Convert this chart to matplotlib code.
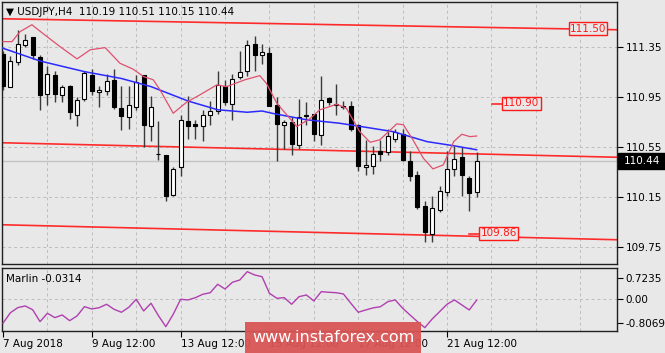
"""
plot.py
-------
USDJPY H4 candlestick chart with channel lines, two moving averages and a
Marlin oscillator sub-window (MT4 style screenshot).
"""

import matplotlib

matplotlib.use("Agg")
import matplotlib.pyplot as plt
from matplotlib.patches import Rectangle
import matplotlib.transforms as mtransforms

# --------------------------------------------------------------------------- #
# Data
# --------------------------------------------------------------------------- #
opens = [111.30, 111.03, 111.23, 111.37, 111.43, 111.27, 110.98, 111.13, 110.97, 111.04,
         110.81, 110.94, 111.13, 110.99, 111.00, 111.09, 110.86, 110.79, 110.87, 111.13,
         110.72, 110.50, 110.49, 110.17, 110.39, 110.76, 110.74, 110.72, 110.81, 110.84,
         111.04, 110.90, 111.11, 111.16, 111.38, 111.29, 111.30, 110.89, 110.73, 110.75,
         110.57, 110.81, 110.82, 110.65, 110.94, 110.89, 110.88, 110.88, 110.73, 110.39,
         110.40, 110.52, 110.51, 110.62, 110.66, 110.44, 110.33, 110.08, 109.86, 110.05,
         110.19, 110.38, 110.47, 110.30, 110.19]
highs = [111.32, 111.28, 111.49, 111.46, 111.43, 111.29, 111.20, 111.16, 111.05, 111.05,
         110.95, 111.16, 111.18, 111.04, 111.14, 111.18, 111.04, 111.04, 111.13, 111.13,
         110.96, 110.76, 110.49, 110.39, 110.81, 110.96, 110.77, 110.85, 110.92, 111.16,
         111.09, 111.14, 111.32, 111.41, 111.44, 111.38, 111.35, 110.95, 110.77, 110.79,
         110.94, 110.91, 110.82, 111.12, 110.95, 111.06, 110.92, 110.92, 110.74, 110.61,
         110.56, 110.61, 110.70, 110.70, 110.70, 110.52, 110.36, 110.12, 110.16, 110.24,
         110.52, 110.56, 110.55, 110.32, 110.51]
lows = [111.01, 111.03, 111.21, 111.35, 111.26, 110.85, 110.89, 110.91, 110.91, 110.78,
        110.72, 110.92, 110.97, 110.87, 110.97, 110.86, 110.69, 110.70, 110.85, 110.55,
        110.60, 110.45, 110.12, 110.16, 110.32, 110.62, 110.62, 110.60, 110.73, 110.82,
        110.89, 110.77, 111.10, 111.12, 111.16, 111.22, 110.88, 110.44, 110.54, 110.49,
        110.54, 110.73, 110.60, 110.57, 110.89, 110.81, 110.86, 110.68, 110.36, 110.33,
        110.34, 110.44, 110.49, 110.59, 110.44, 110.28, 110.06, 109.79, 109.79, 110.03,
        110.16, 110.32, 110.16, 110.04, 110.15]
closes = [111.04, 111.24, 111.38, 111.41, 111.29, 110.97, 111.14, 110.98, 111.03, 110.83,
          110.93, 111.14, 111.00, 111.01, 111.08, 110.87, 110.80, 110.89, 111.07, 110.73,
          110.87, 110.495, 110.16, 110.38, 110.77, 110.72, 110.72, 110.81, 110.84, 111.05,
          110.91, 111.10, 111.15, 111.37, 111.29, 111.31, 110.88, 110.74, 110.75, 110.58,
          110.79, 110.80, 110.66, 110.93, 110.91, 110.89, 110.875, 110.70, 110.40, 110.41,
          110.50, 110.50, 110.64, 110.67, 110.45, 110.32, 110.07, 109.87, 110.06, 110.20,
          110.38, 110.46, 110.33, 110.18, 110.44]

# slow moving average (blue), sampled at bar positions
ma_slow_bars = [-0.4, 5, 11, 16, 20, 25, 29, 33, 35, 36.5, 41, 45.5, 49, 52.7, 57.3, 60.8, 64]
ma_slow_vals = [111.35, 111.24, 111.155, 111.10, 111.035, 110.92, 110.85, 110.83, 110.84,
                110.82, 110.77, 110.742, 110.71, 110.675, 110.595, 110.563, 110.53]

# fast moving average (pink), sampled at bar positions
ma_fast_bars = [0, 1.2, 2.3, 3.9, 5.4, 7.7, 10, 11.8, 13.8, 15.8, 17.6, 19, 20.3, 21.2, 23,
                24.8, 26.6, 28.9, 30.2, 32.7, 34.7, 35.6, 37, 39.7, 41.5, 42.8, 45.1, 46.4,
                48.2, 49.6, 50.9, 52.1, 53.2, 54.1, 55.4, 56.8, 58.1, 59.5, 60.9, 62, 63.1, 64]
ma_fast_vals = [111.395, 111.395, 111.475, 111.53, 111.46, 111.355, 111.257, 111.33, 111.347,
                111.222, 111.174, 111.115, 111.09, 111.01, 110.822, 110.91, 110.969, 111.049,
                111.035, 111.09, 111.123, 111.06, 110.902, 110.715, 110.78, 110.849, 110.894,
                110.862, 110.675, 110.59, 110.609, 110.675, 110.737, 110.73, 110.609, 110.462,
                110.377, 110.409, 110.595, 110.654, 110.635, 110.64]

# Marlin oscillator, one value per bar
marlin = [-0.80, -0.45, -0.28, -0.225, -0.35, -0.75, -0.47, -0.617, -0.527, -0.718,
          -0.56, -0.248, -0.326, -0.282, -0.168, -0.336, -0.436, -0.268, 0.0, -0.393,
          -0.134, -0.55, -0.92, -0.503, 0.0, -0.023, 0.054, 0.168, 0.22, 0.503,
          0.345, 0.57, 0.648, 0.926, 0.815, 0.758, 0.2, 0.034, 0.054, -0.168,
          0.087, 0.144, -0.057, 0.255, 0.235, 0.22, 0.178, -0.134, -0.436, -0.36,
          -0.29, -0.25, -0.08, -0.023, -0.30, -0.527, -0.75, -0.953, -0.66, -0.416,
          -0.168, -0.023, -0.19, -0.359, -0.0314]

# channel lines: value at the left and right edge of the chart
channel_bars = [-0.14, 82.97]
channel_upper = [111.578, 111.49]
channel_mid = [110.586, 110.47]
channel_lower = [109.93, 109.81]

# price level labels
level_values = [111.50, 110.90, 109.86]
level_bars = [76.4, 67.4, 64.3]
level_texts = ["111.50", "110.90", "109.86"]

last_price = 110.44
price_ticks = [111.35, 110.95, 110.55, 110.15, 109.75]
marlin_ticks = [0.7235, 0.0, -0.8069]
marlin_tick_labels = ["0.7235", "0.00", "-0.8069"]
date_ticks = [0, 12, 24, 36, 48, 60]
date_labels = ["7 Aug 2018", "9 Aug 12:00", "13 Aug 12:00", "15 Aug 12:00",
               "17 Aug 12:00", "21 Aug 12:00"]

# --------------------------------------------------------------------------- #
# Style
# --------------------------------------------------------------------------- #
BG = "#e8e8e8"
GRID = dict(color="#bdbdbd", linestyle=(0, (3, 3)), linewidth=0.7)
FS = 7.5
W, H = 665, 353

plt.rcParams["font.family"] = ["DejaVu Sans"]
fig = plt.figure(figsize=(W / 100, H / 100), dpi=100, facecolor=BG)


def frame(left, top, right, bottom):
    """Axes rectangle from pixel edges."""
    return [left / W, 1 - bottom / H, (right - left) / W, (bottom - top) / H]


ax = fig.add_axes(frame(2, 2, 617, 264), facecolor=BG)
ax2 = fig.add_axes(frame(2, 268.3, 617, 331), facecolor=BG, sharex=ax)

xlim = (channel_bars[0], channel_bars[1])
grid_bars = list(range(6, 83, 6))

# --------------------------------------------------------------------------- #
# Main window
# --------------------------------------------------------------------------- #
for gb in grid_bars:
    ax.axvline(gb, zorder=0, **GRID)
for pt in price_ticks:
    ax.axhline(pt, zorder=0, **GRID)

ax.axhline(last_price, color="#c4c4c4", linewidth=1.0, zorder=1)

for vals in (channel_upper, channel_mid, channel_lower):
    ax.plot(channel_bars, vals, color="#ff2a2a", linewidth=1.2, zorder=2)

# candles
for i, (o, h, l, c) in enumerate(zip(opens, highs, lows, closes)):
    ax.vlines(i, l, h, color="#3a3a3a", linewidth=1.0, zorder=3)
    bottom = min(o, c)
    height = max(abs(c - o), 0.004)
    face = "black" if c < o else "white"
    ax.add_patch(Rectangle((i - 0.27, bottom), 0.54, height, facecolor=face,
                           edgecolor="black", linewidth=0.8, zorder=4))

ax.plot(ma_slow_bars, ma_slow_vals, color="#2a2aff", linewidth=1.1, zorder=5)
ax.plot(ma_fast_bars, ma_fast_vals, color="#e0506e", linewidth=0.9, zorder=5)

# level labels
for val, bar, txt in zip(level_values, level_bars, level_texts):
    if txt != "111.50":
        ax.plot([bar - 1.3, bar], [val, val], color="#ff2a2a", linewidth=1.2, zorder=2)
    ax.text(bar + 0.2, val, txt, color="#ff1a1a", fontsize=FS, ha="left", va="center",
            zorder=6, bbox=dict(boxstyle="square,pad=0.12", facecolor=BG,
                                edgecolor="#ff1a1a", linewidth=1.0))

ax.text(0.007, 0.962, "\u25bc USDJPY,H4  110.19 110.51 110.15 110.44", transform=ax.transAxes,
        fontsize=FS, ha="left", va="center", color="black")

ax.set_xlim(*xlim)
ax.set_ylim(109.616, 111.712)
ax.yaxis.tick_right()
ax.set_yticks(price_ticks)
ax.set_yticklabels([f"{p:.2f}" for p in price_ticks])
ax.tick_params(axis="y", direction="out", length=4, pad=2, labelsize=FS, width=0.8)
ax.tick_params(axis="x", length=0, labelbottom=False)

# current price box on the axis
trans = mtransforms.blended_transform_factory(ax.transAxes, ax.transData)
ax.add_patch(Rectangle((1.002, last_price - 0.06), 0.08, 0.12, transform=trans,
                       facecolor="black", edgecolor="black", clip_on=False, zorder=6))
ax.text(1.0105, last_price, "110.44", transform=trans, color="white", fontsize=FS,
        ha="left", va="center", clip_on=False, zorder=7)

# --------------------------------------------------------------------------- #
# Marlin window
# --------------------------------------------------------------------------- #
for gb in grid_bars:
    ax2.axvline(gb, zorder=0, **GRID)
ax2.axhline(0, zorder=0, **GRID)
ax2.plot(range(len(marlin)), marlin, color="#b040b0", linewidth=1.0, zorder=3)
ax2.text(0.0065, 0.83, "Marlin -0.0314", transform=ax2.transAxes, fontsize=FS,
         ha="left", va="center")

ax2.set_ylim(-1.065, 1.039)
ax2.yaxis.tick_right()
ax2.set_yticks(marlin_ticks)
ax2.set_yticklabels(marlin_tick_labels)
ax2.tick_params(axis="y", direction="out", length=4, pad=2, labelsize=FS, width=0.8)
ax2.set_xticks(date_ticks)
ax2.set_xticklabels(date_labels, ha="left")
ax2.tick_params(axis="x", direction="out", length=4, pad=2, labelsize=FS, width=0.8)

for a in (ax, ax2):
    for s in a.spines.values():
        s.set_color("#202020")
        s.set_linewidth(1.0)

# --------------------------------------------------------------------------- #
# Watermark
# --------------------------------------------------------------------------- #
fig.patches.append(Rectangle((245 / W, 0), 176 / W, 31.5 / H, transform=fig.transFigure,
                             facecolor="#d95555", edgecolor="none", alpha=0.95, zorder=10))
fig.text(333 / W, 15.5 / H, "www.instaforex.com", color="white", fontsize=11.5,
         ha="center", va="center", zorder=11)

fig.savefig("out.png", dpi=100, facecolor=BG)
